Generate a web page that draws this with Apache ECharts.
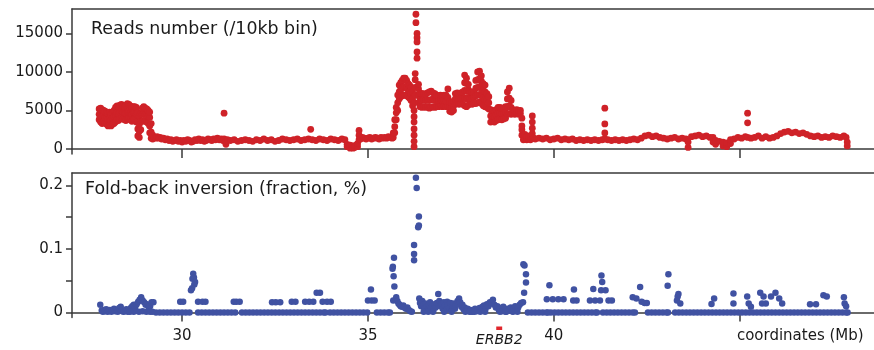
<!DOCTYPE html>
<html>
<head>
<meta charset="utf-8">
<script src="https://cdn.jsdelivr.net/npm/echarts@6/dist/echarts.min.js"></script>
<style>
html,body{margin:0;padding:0;background:#fff;}
#c{width:874px;height:350px;}
</style>
</head>
<body>
<div id="c"></div>
<script>
// ---------- data ----------
// Reads number per 10kb bin: [Mb, value, value, ...] (several bins stacked at one position)
const readsLeft = [
[27.77,3800,4500,5200],[27.81,3500,4300,5300],[27.85,3300,4200,5100],[27.89,3600,4400,5000],
[27.93,3400,4100,4900],[27.97,3200,4000,4700],[28.01,3000,3800,4600],[28.05,3100,3900,4800],
[28.09,3000,3700,4500],[28.13,3200,4000,4700],[28.17,3300,4200,5000],[28.21,3500,4400,5400],
[28.25,3800,4700,5600],[28.29,3700,4600,5500],[28.33,3900,4800,5700],[28.37,4000,4900,5800],
[28.41,3900,4800,5600],[28.45,3800,4700,5500],[28.49,3700,4600,5700],[28.53,3900,4800,5900],
[28.57,4000,4900,5800],[28.61,3800,4700,5600],[28.65,3600,4500,5400],[28.69,3900,4800,5500],
[28.73,3900,4800,5500],[28.77,3500,4500,5400],[28.81,1700,2600,3600,4700],[28.85,1500,2300,3200,4300],
[28.89,2500,3600,4600],[28.93,3600,4500,5300],[28.97,3700,4600,5500],[29.01,3600,4500,5300],
[29.05,3500,4400,5200],[29.09,3300,4200,5000],[29.13,2100,3000,4100,4800],[29.17,1400,2200,3300]
];
const readsFlat = [
[29.21,1300,1800],[29.25,1500],[29.29,1400],[29.33,1600],[29.37,1400],[29.41,1500],[29.45,1300],
[29.50,1400],[29.55,1200],[29.60,1300],[29.65,1100],[29.70,1200],[29.75,1000],[29.80,1100],
[29.85,1200],[29.90,1000],[29.95,1100],[30.00,900],[30.05,1100],[30.10,1000],[30.15,1200],
[30.20,1100],[30.25,900],[30.30,1000],[30.35,1200],[30.40,1100],[30.45,1300],[30.50,1100],
[30.55,1200],[30.60,1000],[30.65,1100],[30.70,1300],[30.75,1200],[30.80,1100],[30.85,1300],
[30.90,1200],[30.95,1400],[31.00,1200],[31.05,1300],[31.10,1100],[31.13,1300,4650],[31.18,600,1000],
[31.22,1200],[31.30,1100],[31.40,1200],[31.50,1000],[31.60,1100],[31.70,1200],[31.80,1100],
[31.90,1000],[32.00,1200],[32.10,1100],[32.20,1300],[32.30,1100],[32.40,1200],[32.50,1000],
[32.60,1100],[32.70,1300],[32.80,1200],[32.90,1100],[33.00,1200],[33.10,1300],[33.20,1100],
[33.30,1200],[33.40,1300],[33.46,2560],[33.50,1200],[33.60,1100],[33.70,1300],[33.80,1200],
[33.90,1100],[34.00,1300],[34.10,1200],[34.20,1100],[34.30,1300],[34.38,1200],
[34.44,600,300],[34.48,300],[34.52,100,500],[34.56,200],[34.60,400,100],[34.64,200],[34.68,500],
[34.72,300,700],[34.76,1200,1800,2400],[34.80,1300],[34.85,1500],[34.90,1400],[34.95,1300],
[35.00,1400],[35.05,1500],[35.10,1300],[35.15,1400],[35.20,1500],[35.25,1400],[35.30,1300],
[35.35,1500],[35.40,1400],[35.45,1500],[35.50,1400],[35.55,1600],[35.60,1500],[35.65,1400]
];
const readsAmp = [
[35.68,1500,2100],[35.72,2100,2900,3800],[35.76,3800,4700,5400],[35.80,5000,6000,7000],
[35.84,6500,7400,8300],[35.88,6800,7700,8600],[35.92,6900,7900,8900],[35.96,7000,8100,9200],
[36.00,7000,8100,9200],[36.04,6900,7900,8900],[36.08,6800,7700,8500],[36.12,6600,7500,8300],
[36.16,6300,7200,8000],[36.20,5600,6500,7400],[36.24,300,1000,1800,2600,3500,4200,5000,6000],
[36.27,7000,8000,9000,9800],[36.29,17500,16400],[36.32,15000,14450,13900,12600,11800],
[36.36,6000,6900,7800,8400],[36.40,5500,6400,7300],[36.45,5400,6300,7200],[36.50,5500,6400,7200],
[36.55,5400,6300,7100],[36.60,5500,6400,7300],[36.65,5300,6300,7400],[36.70,5400,6400,7500],
[36.75,5500,6500,7300],[36.80,5400,6300,7200],[36.85,5500,6300,7000],[36.90,5500,6200,6900],
[36.95,5600,6300,7000],[37.00,5500,6200,6900],[37.05,5600,6300,7000],[37.10,5500,6200,7000],
[37.15,5600,6700,7800],[37.20,4900,5500,6100],[37.25,4800,5400,6000],[37.30,5000,5600,6200],
[37.35,5800,6500,7200],[37.40,5900,6600,7300],[37.45,5800,6500,7200],[37.50,5900,6600,7300],
[37.55,5800,6600,7400],[37.60,5600,6600,7600,8600,9600],[37.65,5500,6500,7500,8500,9200],
[37.70,5700,6700,7700,8400],[37.75,5900,6600,7400],[37.80,5800,6600,7400],[37.85,5900,6700,7400],
[37.90,5900,6900,7900,8900],[37.95,6000,7000,8000,9000,10000],[38.00,6100,7100,8100,9100,10100],
[38.05,5900,6900,7900,8800,9500],[38.10,5600,6600,7600,8500],[38.15,5500,6400,7400,8300],
[38.20,5400,6300,7200],[38.25,5200,6000,6800],[38.30,3500,4300,5100],[38.35,3600,4300,5000],
[38.40,3500,4200,4900],[38.45,3700,4400,5100],[38.50,3800,4600,5400],[38.55,3900,4700,5400],
[38.60,3800,4600,5300],[38.65,3900,4600,5300],[38.70,4000,4800,5500],[38.75,4500,5500,6500,7400],
[38.80,4600,5600,6600,7900],[38.85,4500,5400,6300],[38.90,4600,5100],[38.95,4500,5000],
[39.00,4600,5100],[39.05,4500,5000],[39.10,4600,5000],[39.14,1800,2500,3000,4000],
[39.18,1200,1800],[39.22,1300,1900],[39.27,1200,1600],[39.32,1300,1700],[39.37,1200,1600],
[39.42,1400,2000,2700,3500,4300],[39.46,1400]
];
const readsRight = [
[39.50,1300],[39.60,1400],[39.70,1300],[39.80,1400],[39.90,1200],[40.00,1300],[40.10,1400],
[40.20,1200],[40.30,1300],[40.40,1200],[40.50,1300],[40.60,1100],[40.70,1200],[40.80,1100],
[40.90,1200],[41.00,1100],[41.10,1200],[41.20,1100],[41.30,1200],[41.37,1300,2080,3250,5300],
[41.45,1200],[41.55,1100],[41.65,1200],[41.75,1100],[41.85,1200],[41.95,1100],[42.05,1200],
[42.15,1300],[42.25,1200],[42.35,1400],[42.45,1700],[42.55,1800],[42.65,1600],[42.75,1700],
[42.85,1500],[42.95,1400],[43.05,1300],[43.15,1400],[43.25,1500],[43.35,1300],[43.45,1400],
[43.55,1300],[43.61,200,900],[43.70,1600],[43.80,1700],[43.90,1800],[44.00,1600],[44.10,1700],
[44.20,1500],[44.28,900,1500],[44.35,600,1100],[44.45,1000],[44.55,400,900],[44.65,300,800],
[44.75,700,1200],[44.85,1300],[44.95,1500],[45.05,1400],[45.15,1600],[45.21,1500,3400,4650],
[45.30,1400],[45.40,1500],[45.50,1700],[45.60,1400],[45.70,1600],[45.80,1400],[45.90,1500],
[46.00,1700],[46.10,2000],[46.20,2200],[46.30,2300],[46.40,2100],[46.50,2200],[46.60,2000],
[46.70,2100],[46.80,1900],[46.90,1700],[47.00,1600],[47.10,1700],[47.20,1500],[47.30,1600],
[47.40,1500],[47.50,1700],[47.60,1600],[47.70,1500],[47.80,1700],[47.86,1500],[47.89,400,900]
];

// Fold-back inversion fraction: bins at zero (Mb positions) and non-zero bins [Mb, value]
const foldZeroMb = [
29.30,29.40,29.50,29.60,29.70,29.80,29.90,30.00,30.10,30.20,
30.43,30.53,30.63,30.73,30.83,30.93,31.03,31.13,31.23,31.33,31.43,
31.61,31.71,31.81,31.91,32.01,32.11,32.21,32.31,32.41,32.51,32.61,32.71,32.81,32.91,33.01,33.11,
33.21,33.31,33.41,33.51,33.61,33.71,33.81,33.86,
33.98,34.08,34.18,34.28,34.38,34.48,34.58,34.68,34.78,34.88,34.98,
35.24,35.34,35.44,35.54,35.59,
39.30,39.40,39.50,39.60,39.70,39.80,39.84,
39.92,40.02,40.12,40.22,40.32,40.42,
40.52,40.62,40.72,40.82,40.92,41.02,41.12,41.16,
41.32,41.42,41.52,41.62,41.72,41.82,41.92,42.02,42.12,42.18,
42.53,42.63,42.73,42.83,42.93,43.03,43.07,
43.26,43.36,43.46,43.56,43.66,43.76,43.86,43.96,44.06,44.16,44.26,44.36,44.46,44.56,44.66,
44.76,44.86,44.96,45.06,45.16,45.26,45.36,45.46,45.56,45.66,45.76,45.86,45.96,46.06,46.16,
46.26,46.36,46.46,46.56,46.66,46.76,46.86,46.96,47.06,47.16,47.26,47.36,47.46,47.56,47.66,
47.76,47.86,47.90
];
const foldPoints = [
[27.80,0.012],[27.84,0.003],[27.87,0.001],[27.90,0.004],[27.93,0.002],[27.96,0.005],[28.00,0.001],
[28.03,0.003],[28.06,0.004],[28.10,0.001],[28.13,0.003],[28.17,0.006],[28.20,0.002],[28.24,0.004],
[28.27,0.001],[28.31,0.007],[28.35,0.009],[28.38,0.003],[28.42,0.001],[28.46,0.002],[28.50,0.005],
[28.54,0.001],[28.58,0.004],[28.62,0.007],[28.66,0.010],[28.70,0.012],[28.74,0.008],[28.78,0.013],
[28.82,0.017],[28.86,0.020],[28.90,0.024],[28.94,0.019],[28.98,0.016],[29.02,0.012],[29.06,0.013],
[29.10,0.009],[29.14,0.010],[29.18,0.016],[29.23,0.016],[28.84,0.001],[28.94,0.002],[29.04,0.001],
[29.14,0.001],[28.70,0.001],[28.60,0.001],[29.20,0.001],
[29.95,0.017],[30.03,0.017],
[30.30,0.061],[30.32,0.055],[30.28,0.053],[30.35,0.048],[30.33,0.044],[30.27,0.038],[30.24,0.035],
[30.43,0.017],[30.55,0.017],[30.63,0.017],
[31.39,0.017],[31.46,0.017],[31.55,0.017],
[32.42,0.016],[32.52,0.016],[32.64,0.016],
[32.95,0.017],[33.05,0.017],[33.31,0.017],[33.42,0.017],[33.53,0.017],[33.62,0.031],[33.71,0.031],
[33.78,0.017],[33.90,0.017],[34.00,0.017],
[35.00,0.019],[35.08,0.036],[35.10,0.019],[35.18,0.019],
[35.70,0.086],[35.67,0.072],[35.66,0.069],[35.69,0.057],[35.71,0.041],[35.68,0.019],
[35.76,0.024],[35.79,0.018],[35.82,0.014],[35.85,0.012],[35.88,0.010],[35.92,0.009],[35.95,0.011],
[35.98,0.008],[36.02,0.006],[36.06,0.008],[36.10,0.004],[36.14,0.002],[36.18,0.001],
[36.24,0.082],[36.24,0.092],[36.24,0.106],[36.35,0.134],[36.37,0.137],[36.37,0.151],[36.31,0.196],[36.29,0.212],
[36.38,0.022],[36.40,0.015],[36.43,0.010],[36.46,0.018],[36.49,0.012],[36.52,0.006],[36.55,0.014],
[36.58,0.009],[36.61,0.003],[36.64,0.012],[36.67,0.016],[36.70,0.007],[36.73,0.011],[36.76,0.004],
[36.79,0.013],[36.82,0.008],[36.85,0.015],[36.89,0.029],[36.92,0.018],[36.95,0.010],[36.98,0.014],
[37.01,0.006],[37.04,0.016],[37.07,0.011],[37.10,0.004],[37.13,0.017],[37.16,0.012],[37.19,0.008],
[37.22,0.015],[37.25,0.003],[37.28,0.010],[37.31,0.014],[37.34,0.006],[37.37,0.012],[37.41,0.018],
[37.45,0.022],[37.48,0.016],[37.51,0.009],[37.54,0.012],[37.57,0.005],[37.60,0.008],[37.64,0.003],
[37.68,0.006],[37.72,0.002],[37.76,0.004],[37.80,0.001],[37.84,0.003],[37.88,0.006],[37.92,0.002],
[37.96,0.005],[38.00,0.007],[38.04,0.003],[38.08,0.009],[38.12,0.011],[38.16,0.006],[38.20,0.013],
[38.24,0.010],[38.28,0.016],[38.32,0.014],[38.36,0.020],[38.40,0.012],[38.44,0.008],[38.48,0.010],
[38.52,0.004],[38.56,0.007],[38.60,0.002],[38.64,0.009],[38.68,0.005],[38.72,0.001],[38.76,0.006],
[38.80,0.003],[38.84,0.008],[38.88,0.002],[38.92,0.006],[38.96,0.010],[39.00,0.004],[39.04,0.008],
[39.08,0.012],[39.12,0.015],
[36.50,0.001],[36.62,0.001],[36.75,0.001],[37.05,0.001],[37.25,0.001],[37.62,0.001],[37.74,0.001],
[37.86,0.001],[38.02,0.001],[38.15,0.001],[38.55,0.001],[38.70,0.001],[38.90,0.001],[39.02,0.001],
[39.18,0.076],[39.21,0.074],[39.25,0.060],[39.25,0.047],[39.20,0.031],[39.17,0.016],
[39.81,0.021],[39.88,0.043],[39.97,0.021],[40.12,0.021],[40.26,0.021],
[40.54,0.036],[40.52,0.019],[40.61,0.019],
[40.97,0.019],[41.06,0.037],[41.11,0.019],[41.24,0.019],
[41.28,0.058],[41.30,0.048],[41.27,0.035],[41.39,0.035],[41.47,0.019],[41.56,0.019],
[42.12,0.024],[42.22,0.022],[42.32,0.040],[42.36,0.017],[42.44,0.015],[42.50,0.015],
[43.08,0.060],[43.06,0.042],[43.35,0.029],[43.33,0.025],[43.31,0.019],[43.40,0.014],
[44.24,0.0135],[44.31,0.022],
[44.83,0.030],[44.83,0.014],
[45.20,0.025],[45.24,0.014],[45.30,0.009],
[45.55,0.031],[45.64,0.025],[45.70,0.014],[45.60,0.014],
[45.84,0.025],[45.96,0.031],[46.06,0.022],[46.14,0.014],
[46.89,0.013],[47.05,0.013],[47.25,0.027],[47.34,0.025],
[47.80,0.024],[47.82,0.014],[47.86,0.010]
];

const readsTicks = [0, 5000, 10000, 15000];
const foldTicks = [0, 0.05, 0.1, 0.15, 0.2];
const foldLabels = [0, 0.1, 0.2];
const mbTicks = [30, 35, 40, 45];
const mbLabels = [30, 35, 40, 45];
const erbb2Mb = [38.45, 38.61];
const titles = ['Reads number (/10kb bin)', 'Fold-back inversion (fraction, %)'];
const xAxisName = 'coordinates (Mb)';
const geneName = 'ERBB2';

// ---------- build ----------
function expand(rows) {
  const out = [];
  rows.forEach(r => { for (let i = 1; i < r.length; i++) out.push([r[0], r[i]]); });
  return out;
}
const readsData = expand(readsLeft).concat(expand(readsFlat), expand(readsAmp), expand(readsRight));
const foldData = foldZeroMb.map(x => [x, 0]).concat(foldPoints);

const FONT = 'DejaVu Sans';
const AX = '#3a3a3a';
const TXT = '#1a1a1a';
const RED = '#cf2228';
const BLUE = '#4052a2';
const X_MIN = 27.04, X_MAX = 48.61;

const chart = echarts.init(document.getElementById('c'), null, {renderer: 'canvas'});

const gridBase = {left: 72, right: 0, show: false, containLabel: false, outerBoundsMode: 'none'};
const lineStyle = {color: AX, width: 1.5};
function bottomX(grid, labels) {
  return {
    type: 'value', gridIndex: grid, position: 'bottom', min: X_MIN, max: X_MAX,
    splitLine: {show: false}, axisLine: {show: true, lineStyle: lineStyle},
    axisTick: {show: true, customValues: mbTicks, length: 9, lineStyle: lineStyle},
    axisLabel: labels
  };
}
function topX(grid) {
  return {
    type: 'value', gridIndex: grid, position: 'top', min: X_MIN, max: X_MAX,
    splitLine: {show: false}, axisLine: {show: true, lineStyle: lineStyle},
    axisTick: {show: false}, axisLabel: {show: false}
  };
}
function leftY(grid, min, max, ticks, labels) {
  return {
    type: 'value', gridIndex: grid, min: min, max: max, splitLine: {show: false},
    axisLine: {show: true, lineStyle: lineStyle},
    axisTick: {show: true, customValues: ticks, length: 6, lineStyle: lineStyle},
    axisLabel: {customValues: labels, margin: 9, color: TXT, fontFamily: FONT, fontSize: 15, formatter: v => String(v)}
  };
}

chart.setOption({
  animation: false,
  backgroundColor: '#fff',
  grid: [
    Object.assign({top: 9, height: 145}, gridBase),
    Object.assign({top: 173, height: 144.5}, gridBase)
  ],
  xAxis: [
    bottomX(0, {show: false}),
    bottomX(1, {
      show: true, customValues: mbLabels, margin: 11, color: TXT, fontFamily: FONT, fontSize: 15,
      formatter: v => v === 45 ? '{c|' + xAxisName + '}' : String(v),
      rich: {c: {fontFamily: FONT, fontSize: 15, color: TXT, padding: [0, 0, 0, 121]}}
    }),
    topX(0),
    topX(1)
  ],
  yAxis: [
    leftY(0, -650, 18180, readsTicks, readsTicks),
    leftY(1, -0.0079, 0.2195, foldTicks, foldLabels)
  ],
  series: [
    {type: 'scatter', xAxisIndex: 0, yAxisIndex: 0, data: readsData, symbolSize: 6.8,
     itemStyle: {color: RED, opacity: 1}, silent: true},
    {type: 'scatter', xAxisIndex: 1, yAxisIndex: 1, data: foldData, symbolSize: 6.5,
     itemStyle: {color: BLUE, opacity: 1}, silent: true}
  ]
});

const gx0 = chart.convertToPixel({xAxisIndex: 1}, erbb2Mb[0]);
const gx1 = chart.convertToPixel({xAxisIndex: 1}, erbb2Mb[1]);
chart.setOption({
  graphic: [
    {type: 'text', left: 91, top: 21, style: {text: titles[0], fontFamily: FONT, fontSize: 17.4, fill: TXT}},
    {type: 'text', left: 85, top: 181, style: {text: titles[1], fontFamily: FONT, fontSize: 17.4, fill: TXT}},
    {type: 'rect', shape: {x: gx0, y: 326.5, width: gx1 - gx0, height: 3.5}, style: {fill: '#e0262c'}},
    {type: 'text', x: (gx0 + gx1) / 2, y: 340, style: {text: geneName, fontFamily: FONT, fontSize: 14, fontStyle: 'italic', fill: TXT, align: 'center', verticalAlign: 'middle'}}
  ]
});
</script>
</body>
</html>
